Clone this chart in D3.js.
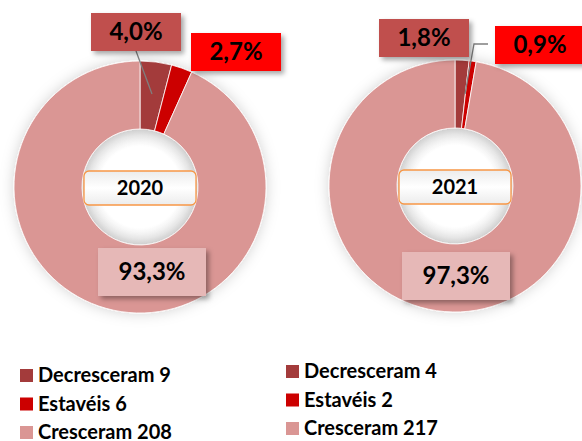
<!DOCTYPE html>
<html>
<head>
<meta charset="utf-8">
<script src="https://cdn.jsdelivr.net/npm/d3@7"></script>
<style>
  body { margin: 0; background: #fff; }
  svg { font-family: Lato, "Open Sans", sans-serif; font-weight: bold; }
</style>
</head>
<body>
<svg id="chart" width="582" height="441"></svg>
<script>
// data
const categories = ['Decresceram', 'Estavéis', 'Cresceram'];
const years = ['2020', '2021'];
const values2020 = [9, 6, 208];
const values2021 = [4, 2, 217];
const colors = ['#a33b3b', '#cc0000', '#da9694'];
const boxColors = ['#c0504d', '#ff0000', '#e6b8b7'];

const fmt = d3.formatLocale({ decimal: ',', thousands: '.', grouping: [3], currency: ['', ''] }).format('.1%');

// layout of each donut (positions only)
const layout = [
  { cx: 140, cy: 187, labels: [[136, 32], [236, 52], [152, 272]],
    leaders: [[[136, 51], [152, 94]]] },
  { cx: 455, cy: 186, labels: [[424, 38], [540, 45], [456, 276]],
    leaders: [[[488, 44], [474, 44], [465, 94]]] }
];
const outerR = 126, innerR = 58;

const svg = d3.select('#chart');
const defs = svg.append('defs');

const shadow = defs.append('filter').attr('id', 'shadow')
    .attr('x', '-20%').attr('y', '-20%').attr('width', '150%').attr('height', '160%');
shadow.append('feDropShadow').attr('dx', 3).attr('dy', 3).attr('stdDeviation', 2.5)
    .attr('flood-color', '#000').attr('flood-opacity', 0.35);

const ringShadow = defs.append('filter').attr('id', 'ringShadow')
    .attr('x', '-20%').attr('y', '-20%').attr('width', '140%').attr('height', '140%');
ringShadow.append('feDropShadow').attr('dx', 0).attr('dy', 0).attr('stdDeviation', 7)
    .attr('flood-color', '#000').attr('flood-opacity', 0.18);

const grad = defs.append('linearGradient').attr('id', 'centerGrad')
    .attr('x1', 0).attr('y1', 0).attr('x2', 0).attr('y2', 1);
grad.append('stop').attr('offset', '0%').attr('stop-color', '#ececec');
grad.append('stop').attr('offset', '50%').attr('stop-color', '#ffffff');
grad.append('stop').attr('offset', '100%').attr('stop-color', '#ececec');

const holeGrad = defs.append('radialGradient').attr('id', 'holeGrad');
holeGrad.append('stop').attr('offset', '70%').attr('stop-color', '#ffffff');
holeGrad.append('stop').attr('offset', '100%').attr('stop-color', '#e4e4e4');

const pie = d3.pie().sort(null).value(d => d);
const arc = d3.arc().innerRadius(innerR).outerRadius(outerR);

[values2020, values2021].forEach((vals, i) => {
  const L = layout[i];
  const total = d3.sum(vals);
  const g = svg.append('g').attr('transform', `translate(${L.cx},${L.cy})`);

  g.append('circle').attr('r', innerR).attr('fill', 'url(#holeGrad)');

  g.append('g').attr('filter', 'url(#ringShadow)')
    .selectAll('path')
    .data(pie(vals))
    .join('path')
      .attr('d', arc)
      .attr('fill', (d, j) => colors[j])
      .attr('stroke', '#fff')
      .attr('stroke-width', 0.8);

  // center year label
  g.append('rect')
      .attr('x', -56).attr('y', -16).attr('width', 112).attr('height', 34)
      .attr('rx', 5)
      .attr('fill', 'url(#centerGrad)')
      .attr('stroke', '#f79646').attr('stroke-width', 1.3);
  g.append('text')
      .attr('y', 1).attr('dy', '0.35em')
      .attr('text-anchor', 'middle')
      .attr('font-size', 20)
      .attr('fill', '#000')
      .text(years[i]);

  // leader lines
  L.leaders.forEach(pts => {
    svg.append('path')
        .attr('d', d3.line()(pts))
        .attr('fill', 'none').attr('stroke', '#7f7f7f').attr('stroke-width', 1.3);
  });

  // percentage labels
  vals.forEach((v, j) => {
    const [lx, ly] = L.labels[j];
    const lg = svg.append('g').attr('transform', `translate(${lx},${ly})`);
    const big = j === 2;
    const w = big ? 108 : 90, h = big ? 48 : 38;
    lg.append('rect')
        .attr('x', -w / 2).attr('y', -h / 2).attr('width', w).attr('height', h)
        .attr('fill', boxColors[j])
        .attr('filter', 'url(#shadow)');
    lg.append('text')
        .attr('dy', '0.35em')
        .attr('text-anchor', 'middle')
        .attr('font-size', 24)
        .attr('fill', '#000')
        .text(fmt(v / total));
  });

  // legend
  const legX = i === 0 ? 20 : 286;
  const legY = i === 0 ? 375 : 371;
  const leg = svg.append('g').attr('transform', `translate(${legX},${legY})`);
  categories.forEach((c, j) => {
    const row = leg.append('g').attr('transform', `translate(0,${j * 28.5})`);
    row.append('rect').attr('x', 0).attr('y', -6).attr('width', 13).attr('height', 13)
        .attr('fill', colors[j]);
    row.append('text').attr('x', 18).attr('dy', '0.36em')
        .attr('font-size', 20).attr('fill', '#000')
        .text(`${c} ${vals[j]}`);
  });
});
</script>
</body>
</html>
